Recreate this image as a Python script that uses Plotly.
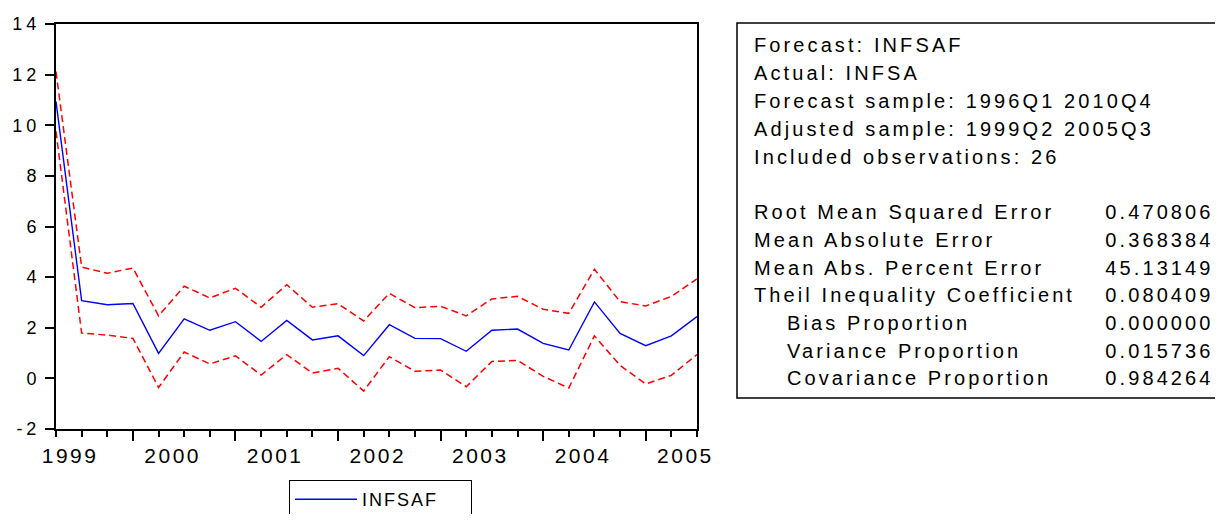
import plotly.graph_objects as go

# ---- data -------------------------------------------------------------
quarters = ["1999Q2", "1999Q3", "1999Q4",
            "2000Q1", "2000Q2", "2000Q3", "2000Q4",
            "2001Q1", "2001Q2", "2001Q3", "2001Q4",
            "2002Q1", "2002Q2", "2002Q3", "2002Q4",
            "2003Q1", "2003Q2", "2003Q3", "2003Q4",
            "2004Q1", "2004Q2", "2004Q3", "2004Q4",
            "2005Q1", "2005Q2", "2005Q3"]
infsaf = [10.94, 3.07, 2.91, 2.96, 0.99, 2.35, 1.90, 2.24, 1.46, 2.29, 1.52,
          1.68, 0.90, 2.12, 1.58, 1.57, 1.07, 1.90, 1.95, 1.38, 1.12, 3.02,
          1.78, 1.29, 1.68, 2.44]
upper = [12.12, 4.40, 4.15, 4.36, 2.47, 3.64, 3.18, 3.56, 2.81, 3.70, 2.81,
         2.95, 2.27, 3.36, 2.79, 2.85, 2.47, 3.14, 3.24, 2.73, 2.57, 4.31,
         3.03, 2.86, 3.24, 3.93]
lower = [9.76, 1.79, 1.71, 1.58, -0.36, 1.04, 0.57, 0.89, 0.13, 0.94, 0.21,
         0.40, -0.50, 0.86, 0.28, 0.33, -0.33, 0.67, 0.71, 0.08, -0.38, 1.68,
         0.51, -0.22, 0.12, 0.94]
years = [1999, 2000, 2001, 2002, 2003, 2004, 2005]
y_ticks = [-2, 0, 2, 4, 6, 8, 10, 12, 14]

info_lines = ["Forecast: INFSAF",
              "Actual: INFSA",
              "Forecast sample: 1996Q1 2010Q4",
              "Adjusted sample: 1999Q2 2005Q3",
              "Included observations: 26"]
stat_labels = ["Root Mean Squared Error",
               "Mean Absolute Error",
               "Mean Abs. Percent Error",
               "Theil Inequality Coefficient",
               "Bias Proportion",
               "Variance Proportion",
               "Covariance Proportion"]
stat_values = ["0.470806", "0.368384", "45.13149", "0.080409",
               "0.000000", "0.015736", "0.984264"]
stat_indent = [False, False, False, False, True, True, True]

# ---- layout helpers (page body has an 8px margin; keep page free of scrollbars)
OX, OY = 8, 8
W, H = 1223 - 2 * OX, 522 - 2 * OY


def fx(px):
    return (px - OX) / W


def fy(py):
    return 1 - (py - OY) / H


def qnum(q):
    return int(q[:4]) + (int(q[-1]) - 1) / 4.0


x = [qnum(q) for q in quarters]
FONT = "Liberation Sans, Arial, sans-serif"
BOX_FS = 20

fig = go.Figure()
fig.add_trace(go.Scatter(x=x, y=upper, mode="lines", showlegend=False,
                         line=dict(color="#FF0000", width=1.5, dash="7px,4px")))
fig.add_trace(go.Scatter(x=x, y=lower, mode="lines", showlegend=False,
                         line=dict(color="#FF0000", width=1.5, dash="7px,4px")))
fig.add_trace(go.Scatter(x=x, y=infsaf, mode="lines", name="INFSAF",
                         line=dict(color="#0000FF", width=1.4)))
# invisible trace holding the axis used for the long year ticks
fig.add_trace(go.Scatter(x=[], y=[], xaxis="x2", showlegend=False, hoverinfo="skip"))

xr = [x[0], x[-1]]
fig.update_layout(
    width=W, height=H,
    margin=dict(l=0, r=0, t=0, b=0, autoexpand=False),
    paper_bgcolor="white", plot_bgcolor="white",
    font=dict(family=FONT, size=18, color="black"),
    xaxis=dict(
        domain=[fx(56), fx(697)], range=xr, anchor="y",
        tickmode="array", tickvals=[yy + 0.375 for yy in years],
        ticktext=[str(yy) for yy in years],
        ticks="", ticklabelstandoff=7,
        tickfont=dict(size=21),
        showline=True, linecolor="black", linewidth=2, mirror=True,
        showgrid=False, zeroline=False,
        minor=dict(tickmode="array", tickvals=x, ticks="outside", ticklen=6,
                   tickwidth=1.5, tickcolor="black", showgrid=False),
    ),
    xaxis2=dict(
        domain=[fx(56), fx(697)], range=xr, overlaying="x", anchor="y", side="bottom",
        tickmode="array", tickvals=[float(yy) for yy in years[1:]],
        ticks="outside", ticklen=11, tickwidth=1.5, tickcolor="black",
        showticklabels=False, showline=False, showgrid=False, zeroline=False,
    ),
    yaxis=dict(
        domain=[fy(429), fy(24)], range=[-2, 14],
        tickmode="array", tickvals=y_ticks, ticktext=[str(v) for v in y_ticks],
        ticks="outside", ticklen=9, tickwidth=1.5, tickcolor="black",
        ticklabelstandoff=5,
        showline=True, linecolor="black", linewidth=2, mirror=True,
        showgrid=False, zeroline=False, tickfont=dict(size=18),
    ),
    showlegend=True,
    legend=dict(x=fx(289), y=fy(480), xanchor="left", yanchor="top",
                bordercolor="black", borderwidth=1, bgcolor="white",
                font=dict(size=18), itemwidth=62, orientation="h",
                entrywidth=104),
)

# statistics box
fig.add_shape(type="rect", xref="paper", yref="paper",
              x0=fx(737), x1=1.02, y0=fy(398), y1=fy(23),
              line=dict(color="black", width=1.5), fillcolor="rgba(0,0,0,0)")

line_y = [45, 73, 101, 129, 157]
for txt, yy in zip(info_lines, line_y):
    fig.add_annotation(text=txt, xref="paper", yref="paper", x=fx(752), y=fy(yy),
                       xanchor="left", yanchor="middle", showarrow=False,
                       font=dict(size=BOX_FS))
stat_y = [212, 240, 268, 295, 323, 351, 378]
for lab, val, ind, yy in zip(stat_labels, stat_values, stat_indent, stat_y):
    fig.add_annotation(text=lab, xref="paper", yref="paper",
                       x=fx(785 if ind else 752), y=fy(yy),
                       xanchor="left", yanchor="middle", showarrow=False,
                       font=dict(size=BOX_FS))
    fig.add_annotation(text=val, xref="paper", yref="paper", x=fx(1212), y=fy(yy),
                       xanchor="right", yanchor="middle", showarrow=False,
                       font=dict(size=BOX_FS))

# EViews-style wide letter spacing for the texts (keeps anchored edges in place)
post = """
var gd = document.getElementById('{plot_id}');
function spread(el, sp, keep) {
  try {
    var b0 = el.getBBox();
    el.style.letterSpacing = sp + 'px';
    var b1 = el.getBBox();
    var dx = 0;
    if (keep === 'left') { dx = b0.x - b1.x; }
    else if (keep === 'right') { dx = (b0.x + b0.width) - (b1.x + b1.width - sp); }
    else { dx = (b0.x + b0.width / 2) - (b1.x + (b1.width - sp) / 2); }
    if (dx !== 0) {
      var t = el.getAttribute('transform') || '';
      el.setAttribute('transform', t + ' translate(' + dx + ',0)');
    }
  } catch (e) {}
}
gd.querySelectorAll('g.annotation').forEach(function (g) {
  var i = parseInt(g.getAttribute('data-index'));
  var a = gd.layout.annotations[i];
  var el = g.querySelector('text.annotation-text');
  if (el && a) { spread(el, 3.1, a.xanchor === 'right' ? 'right' : 'left'); }
});
gd.querySelectorAll('g.xtick text').forEach(function (el) { spread(el, 2.5, 'center'); });
gd.querySelectorAll('g.ytick text').forEach(function (el) { spread(el, 4, 'right'); });
gd.querySelectorAll('text.legendtext').forEach(function (el) { spread(el, 2, 'left'); });
"""

fig.write_html("out.html", post_script=post)
